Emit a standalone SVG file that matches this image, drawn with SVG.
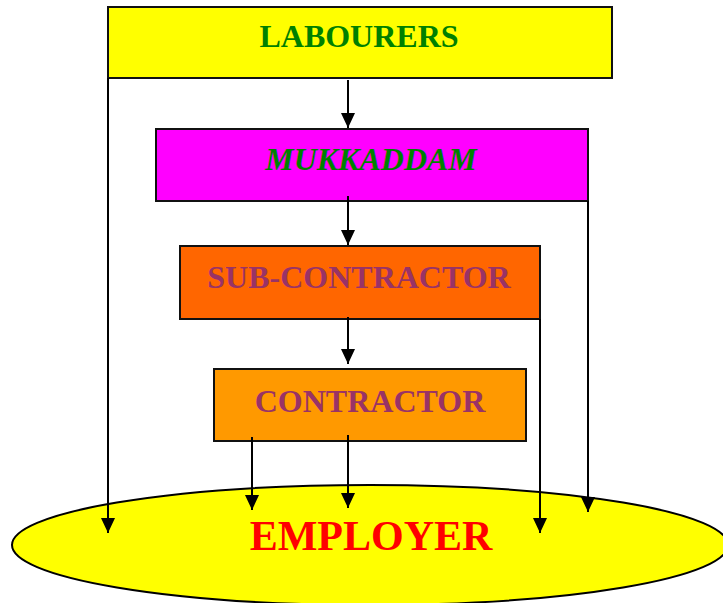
<svg xmlns="http://www.w3.org/2000/svg" width="723" height="603" viewBox="0 0 723 603">
  <style>
    .box { stroke: #111; stroke-width: 2; }
    .lbl { font-family: "Liberation Serif", "Times New Roman", serif; font-weight: bold; text-anchor: middle; }
    .conn { stroke: #000; stroke-width: 2; fill: none; marker-end: url(#arrow); }
  </style>
  <defs>
    <marker id="arrow" markerUnits="userSpaceOnUse" markerWidth="16" markerHeight="16" viewBox="0 0 16 16" refX="15" refY="8" orient="auto">
      <path d="M0,1 L15,8 L0,15 Z" fill="#000"/>
    </marker>
  </defs>

  <g id="employer">
    <ellipse cx="370" cy="545" rx="358" ry="60" fill="#FFFF00" stroke="#000" stroke-width="2"/>
    <text class="lbl" x="371" y="550" font-size="42" fill="#FF0000">EMPLOYER</text>
  </g>

  <g id="labourers">
    <rect class="box" x="108" y="7" width="504" height="71" fill="#FFFF00"/>
    <text class="lbl" x="359" y="47" font-size="32" fill="#008000">LABOURERS</text>
  </g>

  <g id="mukkaddam">
    <rect class="box" x="156" y="129" width="432" height="72" fill="#FF00FF"/>
    <text class="lbl" x="371" y="170" font-size="32" font-style="italic" fill="#008000">MUKKADDAM</text>
  </g>

  <g id="sub-contractor">
    <rect class="box" x="180" y="246" width="360" height="73" fill="#FF6600"/>
    <text class="lbl" x="359" y="288" font-size="32" fill="#993366">SUB-CONTRACTOR</text>
  </g>

  <g id="contractor">
    <rect class="box" x="214" y="369" width="312" height="72" fill="#FF9900"/>
    <text class="lbl" x="370" y="412" font-size="32" fill="#993366">CONTRACTOR</text>
  </g>

  <g id="connectors">
    <line class="conn" x1="348" y1="80" x2="348" y2="128"/>
    <line class="conn" x1="348" y1="196" x2="348" y2="245"/>
    <line class="conn" x1="348" y1="317" x2="348" y2="364"/>
    <line class="conn" x1="108" y1="78" x2="108" y2="533"/>
    <line class="conn" x1="588" y1="201" x2="588" y2="512"/>
    <line class="conn" x1="540" y1="319" x2="540" y2="533"/>
    <line class="conn" x1="252" y1="437" x2="252" y2="510"/>
    <line class="conn" x1="348" y1="435" x2="348" y2="508"/>
  </g>
</svg>
